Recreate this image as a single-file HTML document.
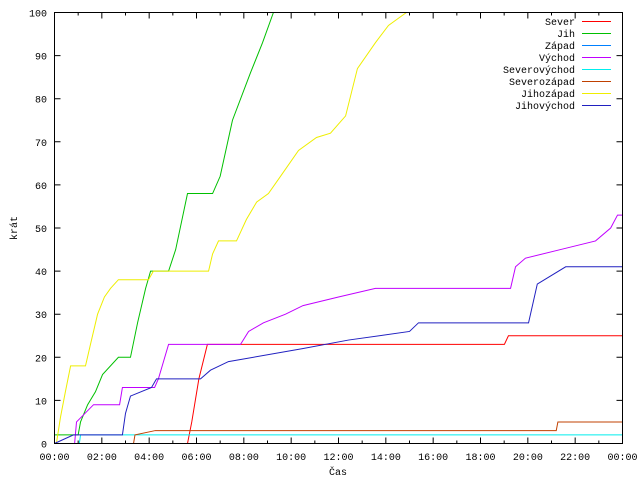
<!DOCTYPE html>
<html><head><meta charset="utf-8"><style>
html,body{margin:0;padding:0;background:#fff}
svg{display:block}
text{font-family:"Liberation Mono","DejaVu Sans Mono",monospace;font-size:10px;fill:#000}
</style></head><body>
<svg id="chart" width="640" height="480" xmlns="http://www.w3.org/2000/svg">
<rect x="0" y="0" width="640" height="480" fill="#fff"/>
<g id="grid"></g>
<g id="series"></g>
<rect x="54.5" y="12.5" width="568" height="431" fill="none" stroke="#000" stroke-width="1"/>
<text transform="translate(17,228) rotate(-90)" text-anchor="middle">krát</text>
<text x="338" y="475" text-anchor="middle">Čas</text>
<g id="legend"></g>
</svg>
<script>
const seriesNames = ["Sever","Jih","Západ","Východ","Severovýchod","Severozápad","Jihozápad","Jihovýchod"];
const seriesColors = ["#ff0000","#00c000","#0080ff","#c000ff","#00eeee","#c04000","#eeee00","#2020c0"];
const sever = [[0,0],[5.62,0],[5.8,5],[6.1,15],[6.46,23],[19.01,23],[19.18,25]];
const jih = [[0,2],[1.0,2],[1.1,5],[1.4,9],[1.73,12],[2.03,16],[2.7,20],[3.21,20],[3.51,28],[3.85,36],[4.06,40],[4.82,40],[5.12,45],[5.62,58],[6.68,58],[7.0,62],[7.52,75],[8.28,86],[8.79,93],[9.25,100]];
const zapad = [[0,0]];
const vychod = [[0,0],[0.85,0],[0.93,5],[1.65,9],[2.75,9],[2.87,13],[4.23,13],[4.39,15],[4.82,23],[7.86,23],[8.2,26],[8.83,28],[9.76,30],[10.5,32],[12.0,34],[13.56,36],[19.27,36],[19.48,41],[19.9,43],[21.38,45],[22.86,47],[23.5,50],[23.79,53]];
const severovychod = [[0,0],[1.05,0],[1.1,2]];
const severozapad = [[0,0],[3.34,0],[3.4,2],[4.26,3],[21.2,3],[21.27,5]];
const jihozapad = [[0,0],[0.08,0],[0.25,6],[0.46,12],[0.68,18],[1.31,18],[1.52,23],[1.82,30],[2.11,34],[2.37,36],[2.7,38],[3.97,38],[4.18,40],[6.51,40],[6.68,44],[6.93,47],[7.69,47],[8.11,52],[8.54,56],[9.04,58],[9.55,62],[10.31,68],[11.07,71],[11.66,72],[12.3,76],[12.8,87],[13.56,93],[14.11,97],[14.87,100]];
const jihovychod = [[0,0],[0.8,2],[2.87,2],[3.0,7],[3.21,11],[4.1,13],[4.31,15],[6.17,15],[6.59,17],[7.35,19],[10.48,22],[12.42,24],[15.0,26],[15.38,28],[20.03,28],[20.4,37],[21.6,41]];
const allSeries = [sever,jih,zapad,vychod,severovychod,severozapad,jihozapad,jihovychod];
const yTicks = [0,10,20,30,40,50,60,70,80,90,100];
const xTicks = [0,2,4,6,8,10,12,14,16,18,20,22,24];
const xTickLabels = ["00:00","02:00","04:00","06:00","08:00","10:00","12:00","14:00","16:00","18:00","20:00","22:00","00:00"];

const X0=54.5,X1=622.5,Y0=443.5,Y1=12.5;
const xs = h => X0 + (h/24)*(X1-X0);
const ys = v => Y0 - (Math.min(v,100)/100)*(Y0-Y1);
const NS="http://www.w3.org/2000/svg";
const grid=document.getElementById('grid'), ser=document.getElementById('series'), leg=document.getElementById('legend');
function mk(tag,attrs,parent){const e=document.createElementNS(NS,tag);for(const k in attrs)e.setAttribute(k,attrs[k]);parent.appendChild(e);return e;}

yTicks.forEach((v,i)=>{
  const y=ys(v);
  const t=mk('path',{d:`M${X0},${y}h6M${X1},${y}h-6`,stroke:'#000'},grid);
  
  
  const l=mk('text',{x:47,y:y+4,'text-anchor':'end'},grid);
  
  
  l.textContent=v;
});
xTicks.forEach((h,i)=>{
  const x=xs(h);
  const t=mk('path',{d:`M${x},${Y0}v-6M${x},${Y1}v6`,stroke:'#000'},grid);
  
  
  const l=mk('text',{x:x,y:460,'text-anchor':'middle'},grid);
  
  
  l.textContent=xTickLabels[i];
});
for(let h=1;h<24;h+=2){
  const x=xs(h);
  const t=mk('path',{d:`M${x},${Y0}v-3M${x},${Y1}v3`,stroke:'#000'},grid);
  
  
}

allSeries.forEach((pts,si)=>{
  let d='';
  pts.forEach((p,i)=>{
    const x=xs(p[0]),y=ys(p[1]);
    d+=(i===0?'M':'L')+x+','+y;
  });
  const last=pts[pts.length-1];
  if(last[1]<100) d+=`H${X1}`;
  const path=mk('path',{d:d,fill:'none',stroke:seriesColors[si],'stroke-width':1},ser);
  
  
});

seriesNames.forEach((n,i)=>{
  const y=21+i*12;
  const t=mk('text',{x:575,y:y+4,'text-anchor':'end'},leg);
  
  
  t.textContent=n;
  const l=mk('line',{x1:582,x2:611,y1:y+0.5,y2:y+0.5,stroke:seriesColors[i]},leg);
  
  
});
</script>
</body></html>
